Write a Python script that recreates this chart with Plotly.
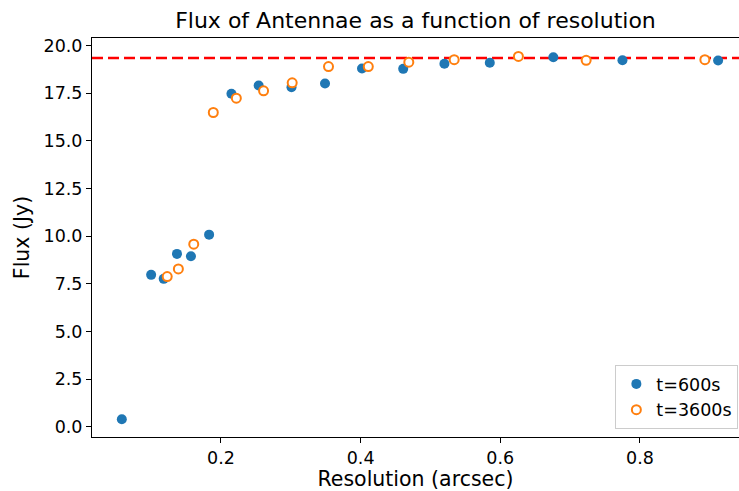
import plotly.graph_objects as go

# Resolution (arcsec) and integrated flux (Jy) for the two integration times
res_600 = [0.058, 0.100, 0.118, 0.137, 0.157, 0.183, 0.215, 0.254, 0.301, 0.349,
           0.402, 0.461, 0.520, 0.585, 0.676, 0.775, 0.912]
flux_600 = [0.39, 7.97, 7.76, 9.07, 8.95, 10.08, 17.47, 17.91, 17.82, 18.01,
            18.80, 18.78, 19.05, 19.10, 19.39, 19.23, 19.22]

res_3600 = [0.123, 0.139, 0.161, 0.189, 0.222, 0.261, 0.302, 0.354, 0.411,
            0.469, 0.534, 0.626, 0.723, 0.893]
flux_3600 = [7.88, 8.28, 9.58, 16.49, 17.24, 17.63, 18.05, 18.90, 18.90,
             19.13, 19.26, 19.43, 19.23, 19.26]

# Reference (total) flux level
ref_flux = 19.35

x_ticks = [0.2, 0.4, 0.6, 0.8]
y_ticks = [0.0, 2.5, 5.0, 7.5, 10.0, 12.5, 15.0, 17.5, 20.0]

FONT = "DejaVu Sans"
BLUE = "#1f77b4"
ORANGE = "#ff7f0e"
TICK_SIZE = 17.5
LABEL_SIZE = 20.5
TITLE_SIZE = 22

fig = go.Figure()

fig.add_trace(go.Scatter(
    x=res_600, y=flux_600, mode="markers", name="t=600s",
    marker=dict(symbol="circle", size=10, color=BLUE, line=dict(width=0)),
))
fig.add_trace(go.Scatter(
    x=res_3600, y=flux_3600, mode="markers", name="t=3600s",
    marker=dict(symbol="circle", size=9, color="white",
                line=dict(width=2, color=ORANGE)),
))

# Horizontal reference line across the full axis width
fig.add_shape(type="line", xref="paper", x0=0, x1=1, yref="y",
              y0=ref_flux, y1=ref_flux, layer="below",
              line=dict(color="red", width=2.6, dash="11px,5px"))

fig.update_layout(
    width=739, height=491,
    margin=dict(l=92, r=0, t=37.5, b=54),
    paper_bgcolor="white", plot_bgcolor="white",
    font=dict(family=FONT, size=TICK_SIZE, color="black"),
    title=dict(text="Flux of Antennae as a function of resolution",
               x=0.5, xref="paper", xanchor="center",
               y=1 - 20 / 491, yref="container", yanchor="middle",
               font=dict(family=FONT, size=TITLE_SIZE, color="black")),
    showlegend=True,
    legend=dict(x=0.999, y=0.02, xanchor="right", yanchor="bottom",
                bgcolor="white", bordercolor="#cccccc", borderwidth=1,
                font=dict(family=FONT, size=TICK_SIZE, color="black"),
                itemwidth=30),
)

fig.update_xaxes(
    range=[0.0153, 0.9419],
    tickmode="array", tickvals=x_ticks,
    ticktext=[f"{v:.1f}" for v in x_ticks],
    ticks="outside", ticklen=5, tickwidth=1, tickcolor="black",
    showline=True, linecolor="black", linewidth=1, mirror=True,
    showgrid=False, zeroline=False,
    tickfont=dict(family=FONT, size=TICK_SIZE, color="black"),
    title=dict(text="Resolution (arcsec)", standoff=6,
               font=dict(family=FONT, size=LABEL_SIZE, color="black")),
)
fig.update_yaxes(
    range=[-0.54, 20.40],
    tickmode="array", tickvals=y_ticks,
    ticktext=[f"{v:.1f}" for v in y_ticks],
    ticks="outside", ticklen=5, tickwidth=1, tickcolor="black",
    showline=True, linecolor="black", linewidth=1, mirror=False,
    showgrid=False, zeroline=False,
    tickfont=dict(family=FONT, size=TICK_SIZE, color="black"),
    title=dict(text="Flux (Jy)", standoff=8,
               font=dict(family=FONT, size=LABEL_SIZE, color="black")),
)

fig.write_html("out.html")
